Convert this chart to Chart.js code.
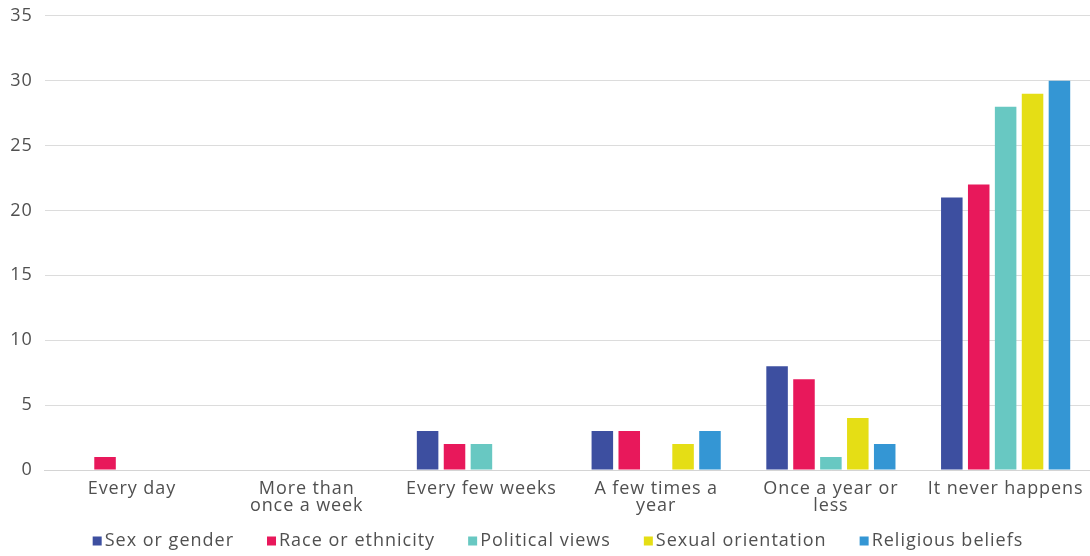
<!DOCTYPE html>
<html>
<head>
<meta charset="utf-8">
<script src="https://cdn.jsdelivr.net/npm/chart.js"></script>
<style>
  html, body { margin: 0; padding: 0; background: #fff; overflow: hidden; }
  #wrap { width: 1090px; height: 556px; overflow: hidden; }
  #freqChart { margin-top: -7px; display: block; }
</style>
</head>
<body>
<div id="wrap"><canvas id="freqChart" width="1093" height="563"></canvas></div>
<script>
var categories = [
    "Every day",
    ["More than", "once a week"],
    "Every few weeks",
    ["A few times a", "year"],
    ["Once a year or", "less"],
    "It never happens"
];
var seriesNames = ["Sex or gender", "Race or ethnicity", "Political views", "Sexual orientation", "Religious beliefs"];
var seriesColors = ["#3d4fa0", "#e8185b", "#68c8c2", "#e5de15", "#3496d4"];
var sexOrGender = [0, 0, 3, 3, 8, 21];
var raceOrEthnicity = [1, 0, 2, 3, 7, 22];
var politicalViews = [0, 0, 2, 0, 1, 28];
var sexualOrientation = [0, 0, 0, 2, 4, 29];
var religiousBeliefs = [0, 0, 0, 3, 2, 30];
var yTicks = [0, 5, 10, 15, 20, 25, 30, 35];

var textColor = "#505050";
var fontFamily = "'Open Sans', sans-serif";

// the original font is wider, so open up the letters a bit
var wideText = {
    id: 'wideText',
    beforeDraw: function (chart) {
        chart.ctx.letterSpacing = '0.9px';
    }
};

// simple legend drawn below the axis, box close to the text like the original
var bottomLegend = {
    id: 'bottomLegend',
    afterDraw: function (chart) {
        var ctx = chart.ctx;
        var items = chart.data.datasets;
        var gapAfterBox = 3, boxSize = 9, itemGap = 33;
        ctx.save();
        ctx.letterSpacing = '1px';
        ctx.font = "18px " + fontFamily;
        ctx.textBaseline = 'middle';
        var total = 0;
        items.forEach(function (ds, i) {
            total += boxSize + gapAfterBox + ctx.measureText(ds.label).width;
            if (i < items.length - 1) total += itemGap;
        });
        var x = 558 - total / 2;
        var y = 548;
        items.forEach(function (ds) {
            ctx.fillStyle = ds.backgroundColor;
            ctx.fillRect(x, y - boxSize / 2, boxSize, boxSize);
            x += boxSize + gapAfterBox;
            ctx.fillStyle = textColor;
            ctx.fillText(ds.label, x, y);
            x += ctx.measureText(ds.label).width + itemGap;
        });
        ctx.restore();
    }
};

var chartElement = document.getElementById("freqChart").getContext('2d');
var chartObject = new Chart(chartElement, {
    type: 'bar',
    data: {
        labels: categories,
        datasets: [
            { label: seriesNames[0], data: sexOrGender, backgroundColor: seriesColors[0] },
            { label: seriesNames[1], data: raceOrEthnicity, backgroundColor: seriesColors[1] },
            { label: seriesNames[2], data: politicalViews, backgroundColor: seriesColors[2] },
            { label: seriesNames[3], data: sexualOrientation, backgroundColor: seriesColors[3] },
            { label: seriesNames[4], data: religiousBeliefs, backgroundColor: seriesColors[4] }
        ]
    },
    options: {
        responsive: false,
        animation: false,
        datasets: {
            bar: { categoryPercentage: 0.77, barPercentage: 0.80 }
        },
        layout: { padding: { top: 0, right: 0, left: 0, bottom: 32 } },
        plugins: {
            tooltip: { enabled: false },
            legend: { display: false }
        },
        scales: {
            x: {
                grid: { display: false, drawTicks: false },
                border: { display: true, color: "#d4d4d4" },
                ticks: {
                    color: textColor,
                    font: { family: fontFamily, size: 18, lineHeight: '17px' },
                    maxRotation: 0,
                    autoSkip: false,
                    padding: 10
                }
            },
            y: {
                min: 0,
                max: 35,
                afterBuildTicks: function (axis) {
                    axis.ticks = yTicks.map(function (v) { return { value: v }; });
                },
                grid: { color: "#dcdcdc", drawTicks: false },
                border: { display: false },
                ticks: {
                    color: textColor,
                    font: { family: fontFamily, size: 18 },
                    padding: 12
                }
            }
        }
    },
    plugins: [wideText, bottomLegend]
});
</script>
</body>
</html>
